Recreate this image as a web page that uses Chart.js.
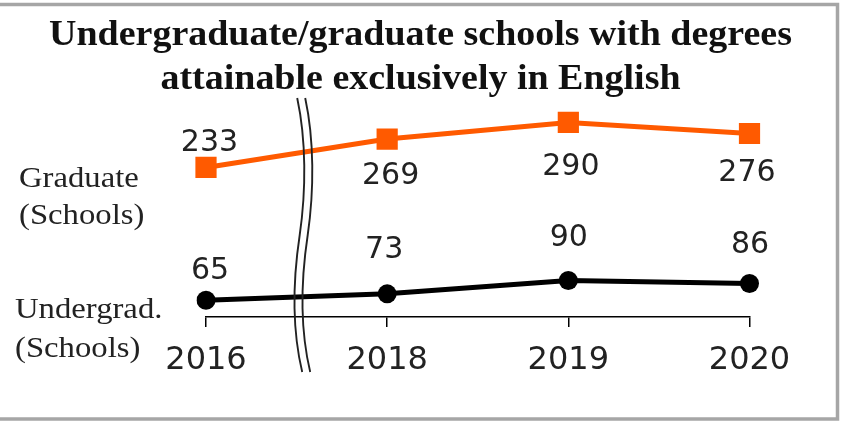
<!DOCTYPE html>
<html>
<head>
<meta charset="utf-8">
<script src="https://cdn.jsdelivr.net/npm/chart.js@4/dist/chart.umd.min.js"></script>
<style>
  html, body { margin: 0; padding: 0; background: #fff; }
  #wrap { width: 841px; height: 424px; }
</style>
</head>
<body>
<div id="wrap"><canvas id="chart" width="841" height="424"></canvas></div>
<script>
// Survey years shown on the category axis
const years = ['2016', '2018', '2019', '2020'];
// Number of schools offering degrees taught entirely in English
const graduateSchools = [233, 269, 290, 276];
const undergradSchools = [65, 73, 90, 86];

const titleLines = ['Undergraduate/graduate schools with degrees', 'attainable exclusively in English'];
const gradCaption = ['Graduate', '(Schools)'];
const undergradCaption = ['Undergrad.', '(Schools)'];

// Offsets (px) of each value label from its marker
const gradLabelShift = [[3.5, -27.5], [3.5, 34], [2.5, 41.5], [-2.5, 37]];
const undergradLabelShift = [[4, -32], [-3, -47], [0.5, -45.5], [0.5, -42]];

const ORANGE = '#FF5A00';
const INK = '#222222';

// White page with a grey frame
const framePlugin = {
  id: 'frame',
  beforeDraw(chart) {
    const ctx = chart.ctx;
    ctx.save();
    ctx.fillStyle = '#ffffff';
    ctx.fillRect(0, 0, chart.width, chart.height);
    ctx.strokeStyle = '#A6A6A6';
    ctx.lineWidth = 3.5;
    ctx.strokeRect(-6, 4.5, 843.5, 414.5);
    ctx.restore();
  }
};

// Title and the two series captions on the left
const textPlugin = {
  id: 'texts',
  afterDraw(chart) {
    const ctx = chart.ctx;
    ctx.save();
    ctx.fillStyle = '#111';
    ctx.textBaseline = 'alphabetic';
    ctx.font = 'bold 35px "Liberation Serif", "Times New Roman", serif';
    ctx.textAlign = 'center';
    [45, 89].forEach((base, i) => {
      ctx.save();
      ctx.translate(420.5, base);
      ctx.scale(1.085, 1);
      ctx.fillText(titleLines[i], 0, 0);
      ctx.restore();
    });

    ctx.fillStyle = INK;
    ctx.font = '30px "Liberation Serif", "Times New Roman", serif';
    ctx.textAlign = 'left';
    const caption = (lines, x, bases) => {
      lines.forEach((t, i) => {
        ctx.save();
        ctx.translate(x, bases[i]);
        ctx.scale(1.09, 1);
        ctx.fillText(t, 0, 0);
        ctx.restore();
      });
    };
    caption(gradCaption, 19, [187, 224]);
    caption(undergradCaption, 15, [318, 357]);
    ctx.restore();
  }
};

// Value labels next to each marker
const valueLabelPlugin = {
  id: 'valueLabels',
  afterDatasetsDraw(chart) {
    const ctx = chart.ctx;
    ctx.save();
    ctx.font = '30px "DejaVu Sans", Verdana, sans-serif';
    ctx.fillStyle = INK;
    ctx.textAlign = 'center';
    ctx.textBaseline = 'alphabetic';
    const shifts = [gradLabelShift, undergradLabelShift];
    chart.data.datasets.forEach((ds, di) => {
      const meta = chart.getDatasetMeta(di);
      meta.data.forEach((pt, i) => {
        const [dx, dy] = shifts[di][i];
        ctx.fillText(String(ds.data[i]), pt.x + dx, pt.y + dy + 11);
      });
    });
    ctx.restore();
  }
};

// Wavy double stroke marking the gap between 2016 and 2018
const axisBreakPlugin = {
  id: 'axisBreak',
  afterDatasetsDraw(chart) {
    const xs = chart.scales.x;
    const p0 = xs.getPixelForValue(0);
    const p1 = xs.getPixelForValue(1);
    const cx = p0 + (p1 - p0) * 0.52;
    const ctx = chart.ctx;
    ctx.save();
    ctx.strokeStyle = '#222';
    ctx.lineWidth = 1.9;
    [0, 8].forEach(off => {
      const x = cx + off;
      ctx.beginPath();
      ctx.moveTo(x - 3, 98);
      ctx.bezierCurveTo(x + 6, 140, x + 6, 190, x - 0.5, 235);
      ctx.bezierCurveTo(x - 8, 285, x - 8, 330, x + 2, 372);
      ctx.stroke();
    });
    ctx.restore();
  }
};

new Chart(document.getElementById('chart'), {
  type: 'line',
  data: {
    labels: years,
    datasets: [
      {
        label: 'Graduate',
        data: graduateSchools,
        borderColor: ORANGE,
        backgroundColor: ORANGE,
        borderWidth: 5,
        pointStyle: 'rect',
        pointRadius: 15,
        pointBorderWidth: 0,
        tension: 0
      },
      {
        label: 'Undergrad.',
        data: undergradSchools,
        borderColor: '#000',
        backgroundColor: '#000',
        borderWidth: 5,
        pointStyle: 'circle',
        pointRadius: 9.5,
        pointBorderWidth: 0,
        tension: 0
      }
    ]
  },
  options: {
    responsive: false,
    devicePixelRatio: 1,
    animation: false,
    events: [],
    layout: { padding: { left: 206, right: 91.5, top: 100, bottom: 29.6 } },
    plugins: {
      legend: { display: false },
      title: { display: false },
      tooltip: { enabled: false }
    },
    scales: {
      x: {
        type: 'category',
        offset: false,
        border: { display: true, color: '#000', width: 1.5 },
        grid: {
          display: true,
          drawOnChartArea: false,
          drawTicks: true,
          tickLength: 10,
          color: '#000',
          lineWidth: 1.5
        },
        ticks: {
          color: INK,
          padding: 14.5,
          maxRotation: 0,
          autoSkip: false,
          font: { family: '"DejaVu Sans", Verdana, sans-serif', size: 32 }
        }
      },
      y: {
        display: false,
        min: 43.7,
        max: 318.4
      }
    }
  },
  plugins: [framePlugin, axisBreakPlugin, valueLabelPlugin, textPlugin]
});
</script>
</body>
</html>
